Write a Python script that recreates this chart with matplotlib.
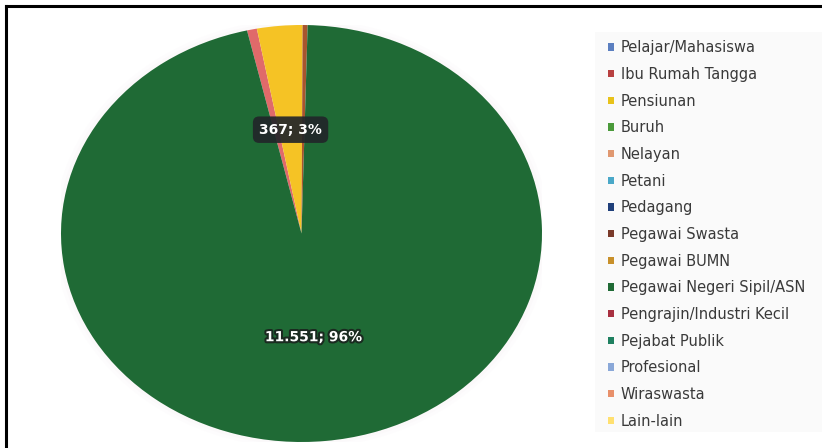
import matplotlib
matplotlib.use("Agg")
import matplotlib.pyplot as plt
import matplotlib.patheffects as pe
from matplotlib.patches import Rectangle, Ellipse
from matplotlib.lines import Line2D
import numpy as np

categories = [
    "Pelajar/Mahasiswa", "Ibu Rumah Tangga", "Pensiunan", "Buruh", "Nelayan",
    "Petani", "Pedagang", "Pegawai Swasta", "Pegawai BUMN",
    "Pegawai Negeri Sipil/ASN", "Pengrajin/Industri Kecil", "Pejabat Publik",
    "Profesional", "Wiraswasta", "Lain-lain",
]
values = [0, 80, 367, 0, 0, 0, 0, 40, 0, 11551, 0, 0, 0, 0, 0]
colors = [
    "#5b7fc0", "#e06a6a", "#f5c325", "#4a9a3a", "#e09870",
    "#4aa8c8", "#1f3f7a", "#a8552e", "#c8902a",
    "#1f6a35", "#a83040", "#1f8060",
    "#8aa8d8", "#e8906a", "#ffe070",
]
legend_colors = [
    "#5b7fc0", "#b84040", "#e8c21a", "#4a9a3a", "#e09870",
    "#4aa8c8", "#1f3f7a", "#7a3a2a", "#c8902a",
    "#1f6a35", "#a83040", "#1f8060",
    "#8aa8d8", "#e8906a", "#ffe070",
]
# wedges that carry a value label
labelled = ["Pensiunan", "Pegawai Negeri Sipil/ASN"]

W, H = 822, 448
fig = plt.figure(figsize=(W / 100, H / 100), dpi=100)
fig.patch.set_facecolor("white")

# soft grey panel behind the legend
fig.patches.append(Rectangle((595 / W, 1 - 432 / H), 227 / W, 400 / H,
                             transform=fig.transFigure, facecolor="#f3f3f3",
                             edgecolor="none", alpha=0.35, zorder=0))

# frame lines along the top and left
fig.add_artist(Line2D([6 / W, 1], [1 - 6 / H, 1 - 6 / H], transform=fig.transFigure,
                      color="black", lw=2.2))
fig.add_artist(Line2D([6 / W, 6 / W], [0, 1 - 6 / H], transform=fig.transFigure,
                      color="black", lw=2.2))

# pie area (stretched ellipse)
left, right, top, bottom = 61, 542, 25, 442
ax = fig.add_axes([left / W, 1 - bottom / H, (right - left) / W, (bottom - top) / H])
ax.axis("off")

# faint halo around the pie
for s, a in [(1.03, 0.06), (1.015, 0.08)]:
    ax.add_patch(Ellipse((0, 0), 2 * s, 2 * s, facecolor="#e8d8e0", edgecolor="none",
                         alpha=a, zorder=0))

wedges, _ = ax.pie(values, colors=colors, startangle=103.1, counterclock=False,
                   radius=1, wedgeprops=dict(linewidth=0), frame=False)
ax.set_xlim(-1, 1)
ax.set_ylim(-1, 1)
ax.set_aspect("auto")

total = sum(values)
for name in labelled:
    i = categories.index(name)
    w = wedges[i]
    mid = np.deg2rad((w.theta1 + w.theta2) / 2)
    x = 0.5 * np.cos(mid)
    y = 0.5 * np.sin(mid)
    pct = round(100 * values[i] / total)
    txt = f"{values[i]:,}".replace(",", ".") + f"; {pct}%"
    if name == "Pegawai Negeri Sipil/ASN":
        ax.text(x, y, txt, ha="center", va="center", color="white",
                fontsize=10, fontweight="bold", zorder=5,
                path_effects=[pe.withStroke(linewidth=3, foreground="#1a2a20")])
    else:
        ax.text(x, y, txt, ha="center", va="center", color="white",
                fontsize=10, fontweight="bold", zorder=5,
                bbox=dict(boxstyle="round,pad=0.45", facecolor="#22262a",
                          edgecolor="none", alpha=0.92))

# legend
handles = [Rectangle((0, 0), 1, 1, facecolor=c, edgecolor="none") for c in legend_colors]
fig.legend(handles, categories, loc="upper left",
           bbox_to_anchor=(601 / W, 1 - 33 / H), frameon=False,
           fontsize=10.5, labelcolor="#3a3a3a", handlelength=0.4, handleheight=0.4,
           handletextpad=0.45, labelspacing=0.80, borderpad=0)

fig.savefig("out.png", dpi=100, facecolor="white")
